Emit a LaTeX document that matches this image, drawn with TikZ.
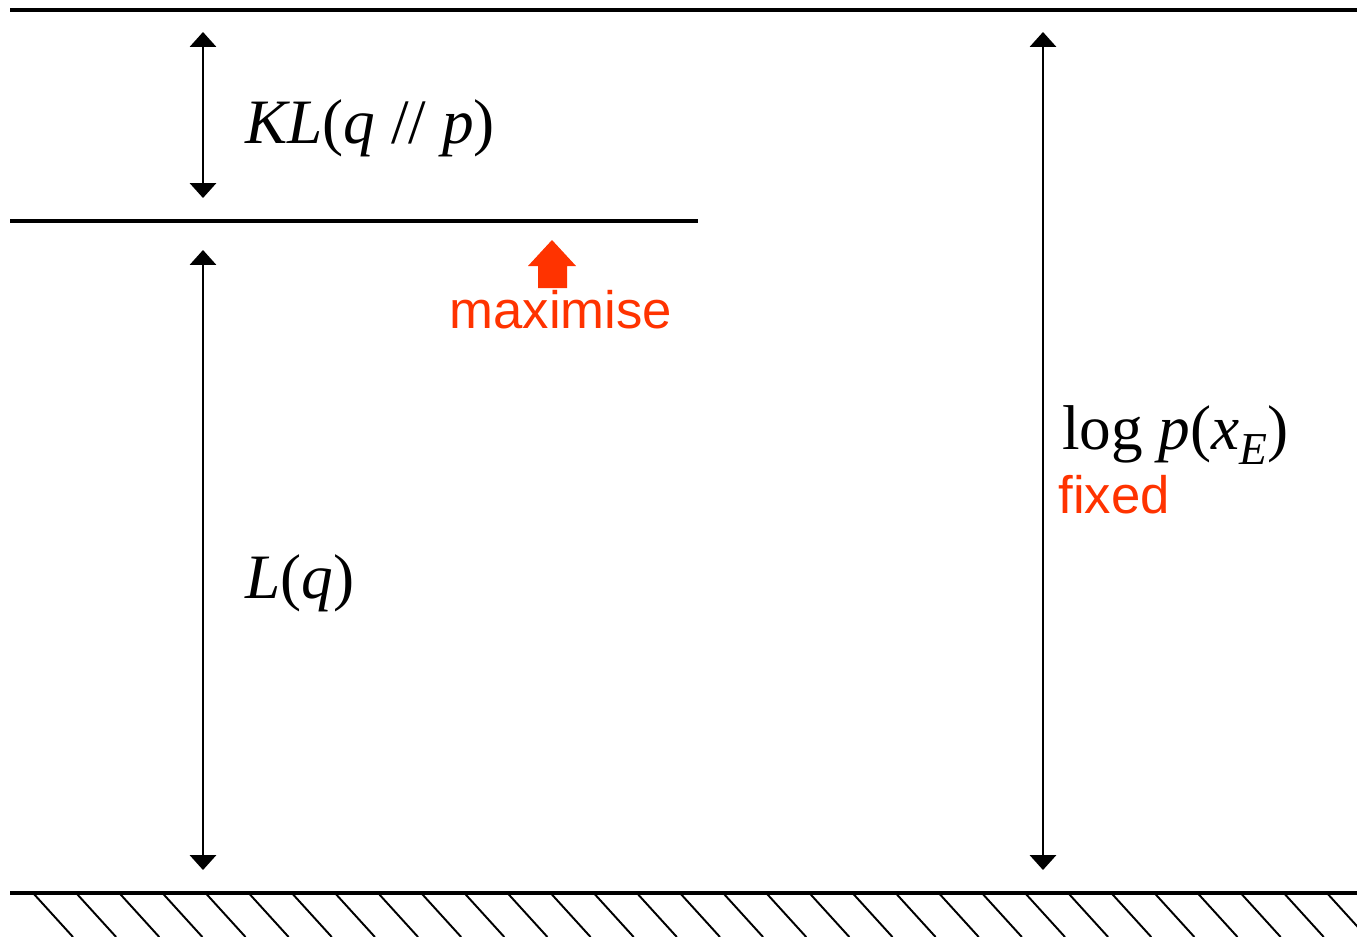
\documentclass[tikz,border=0pt]{standalone}
\usepackage{fontspec}
\setmainfont{Liberation Serif}
\newfontfamily\labelsans{Liberation Sans}
\usetikzlibrary{arrows.meta}
\definecolor{maxred}{RGB}{255,51,0}

\begin{document}
\begin{tikzpicture}[x=0.02cm, y=-0.02cm, >={Triangle[width=15pt, length=8.5pt]},
    level/.style={line width=2.2pt},
    dim/.style={<->, line width=1.1pt},
    mathlabel/.style={anchor=base west, inner sep=0pt, font=\fontsize{36}{36}\selectfont},
    redlabel/.style={inner sep=0pt, text=maxred, font=\labelsans\fontsize{30}{30}\selectfont}]
    \useasboundingbox (0,0) rectangle (1357,937);

    % niveaus
    \draw[level] (10,10) -- (1357,10);
    \draw[level] (10,221) -- (698,221);
    \draw[level] (10,893) -- (1357,893);

    % arcering onder de grond
    \foreach \i in {0,...,30}
      \draw[line width=1.1pt] (33+43.13*\i,893) -- ++(40,44);

    % eindpunten van de maatpijlen
    \coordinate (kltop) at (203,32);
    \coordinate (klbot) at (203,198);
    \coordinate (lqtop) at (203,250);
    \coordinate (lqbot) at (203,870);
    \coordinate (logtop) at (1043,32);
    \coordinate (logbot) at (1043,870);

    \draw[dim] (kltop) -- (klbot);
    \draw[dim] (lqtop) -- (lqbot);
    \draw[dim] (logtop) -- (logbot);

    % labels
    \node[mathlabel] (kl) at (245,143) {\textit{KL}(\textit{q} // \textit{p})};
    \node[mathlabel] (lq) at (245,598) {\textit{L}(\textit{q})};
    \node[mathlabel] (logp) at (1062,449)
      {log \textit{p}(\textit{x}\raisebox{-0.55ex}{\fontsize{26}{26}\selectfont\textit{E}})};
    \node[redlabel, anchor=base west] (fixed) at (1058,513) {fixed};

    % blokpijl
    \fill[maxred] (552,240) -- (576,266) -- (567,266) -- (567,288)
      -- (538,288) -- (538,266) -- (528,266) -- cycle;
    \node[redlabel, anchor=base] (maxim) at (561,328) {maximise};
\end{tikzpicture}
\end{document}
